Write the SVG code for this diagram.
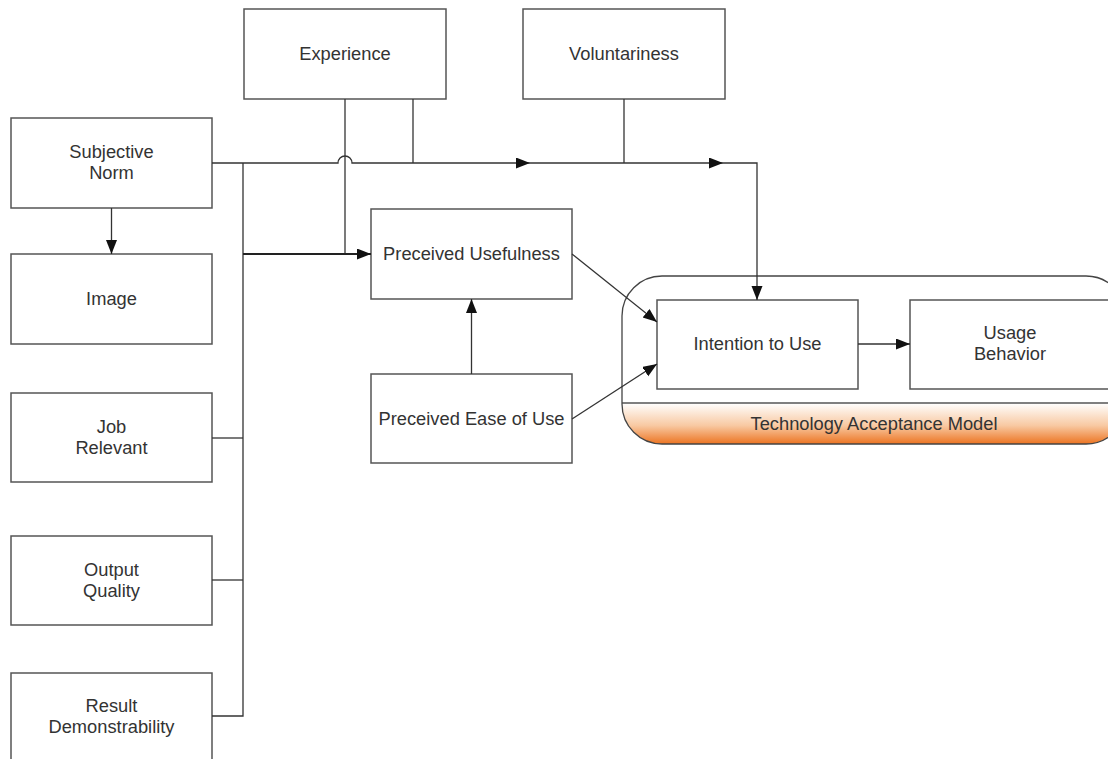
<svg xmlns="http://www.w3.org/2000/svg" width="1108" height="759" viewBox="0 0 1108 759">
<style>
.box{fill:#fff;stroke:#555;stroke-width:1.5}
.t{font-family:"Liberation Sans",Arial,sans-serif;font-size:18.3px;fill:#333;text-anchor:middle}
.c{fill:none;stroke:#333;stroke-width:1.3}
.cb{fill:none;stroke:#222;stroke-width:1.8}
</style>
<defs>
<marker id="ar" markerUnits="userSpaceOnUse" markerWidth="15" markerHeight="12" refX="14" refY="5.5" orient="auto">
<path d="M0,0 L14,5.5 L0,11 z" fill="#111"/>
</marker>
<linearGradient id="og" x1="0" y1="0" x2="0" y2="1">
<stop offset="0" stop-color="#ffffff"/>
<stop offset="0.55" stop-color="#f8c9a2"/>
<stop offset="1" stop-color="#ec7422"/>
</linearGradient>
<clipPath id="tamclip"><rect x="622" y="276" width="504" height="168" rx="40" ry="40"/></clipPath>
</defs>
<g id="tam">
<rect x="622" y="276" width="504" height="168" rx="40" ry="40" fill="#fff"/>
<rect x="622" y="403" width="504" height="41" fill="url(#og)" clip-path="url(#tamclip)"/>
<line x1="622" y1="403" x2="1126" y2="403" stroke="#555" stroke-width="1.5"/>
<rect x="622" y="276" width="504" height="168" rx="40" ry="40" fill="none" stroke="#444" stroke-width="1.3"/>
<text class="t" x="874" y="430">Technology Acceptance Model</text>
</g>
<g id="experience"><rect class="box" x="244" y="9" width="202" height="90"/><text class="t" x="345" y="60">Experience</text></g>
<g id="voluntariness"><rect class="box" x="523" y="9" width="202" height="90"/><text class="t" x="624" y="60">Voluntariness</text></g>
<g id="subjective-norm"><rect class="box" x="11" y="118" width="201" height="90"/><text class="t" x="111.5" y="158">Subjective</text><text class="t" x="111.5" y="179">Norm</text></g>
<g id="image"><rect class="box" x="11" y="254" width="201" height="90"/><text class="t" x="111.5" y="305">Image</text></g>
<g id="job-relevant"><rect class="box" x="11" y="393" width="201" height="89"/><text class="t" x="111.5" y="433">Job</text><text class="t" x="111.5" y="454">Relevant</text></g>
<g id="output-quality"><rect class="box" x="11" y="536" width="201" height="89"/><text class="t" x="111.5" y="576">Output</text><text class="t" x="111.5" y="597">Quality</text></g>
<g id="result-demonstrability"><rect class="box" x="11" y="673" width="201" height="90"/><text class="t" x="111.5" y="712">Result</text><text class="t" x="111.5" y="733">Demonstrability</text></g>
<g id="perceived-usefulness"><rect class="box" x="371" y="209" width="201" height="90"/><text class="t" x="471.5" y="260">Preceived Usefulness</text></g>
<g id="perceived-ease"><rect class="box" x="371" y="374" width="201" height="89"/><text class="t" x="471.5" y="425">Preceived Ease of Use</text></g>
<g id="intention"><rect class="box" x="657" y="300" width="201" height="89"/><text class="t" x="757.5" y="350">Intention to Use</text></g>
<g id="usage-behavior"><rect class="box" x="910" y="300" width="201" height="89"/><text class="t" x="1010" y="339">Usage</text><text class="t" x="1010" y="360">Behavior</text></g>
<g id="connectors">
<path class="c" d="M111.5,208 L111.5,254" marker-end="url(#ar)"/>
<path class="c" d="M212,163 L338,163 A7,7 0 0 1 352,163 L530,163" marker-end="url(#ar)"/>
<path class="c" d="M530,163 L723,163" marker-end="url(#ar)"/>
<path class="c" d="M723,163 L757,163 L757,300" marker-end="url(#ar)"/>
<path class="c" d="M413,99 L413,163"/>
<path class="c" d="M624,99 L624,163"/>
<path class="c" d="M345,99 L345,254"/>
<path class="c" d="M243,163 L243,716 L212,716"/>
<path class="c" d="M212,438 L243,438"/>
<path class="c" d="M212,580 L243,580"/>
<path class="cb" d="M243,254 L371,254" marker-end="url(#ar)"/>
<path class="c" d="M471.5,374 L471.5,299" marker-end="url(#ar)"/>
<path class="c" d="M572,254 L657,322" marker-end="url(#ar)"/>
<path class="c" d="M572,419 L657,364" marker-end="url(#ar)"/>
<path class="c" d="M858,344 L910,344" marker-end="url(#ar)"/>
</g>
</svg>
